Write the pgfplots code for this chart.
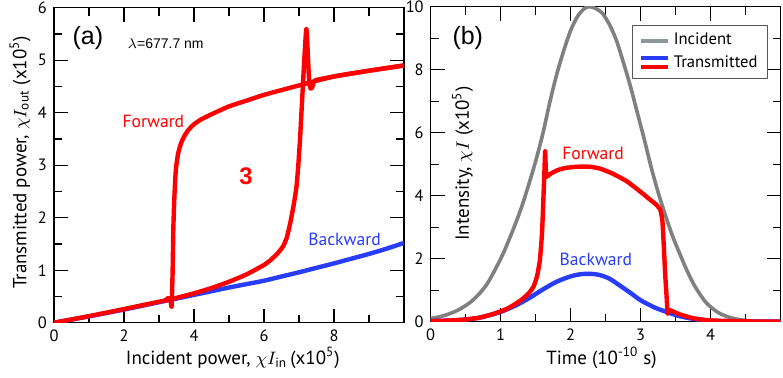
\documentclass[border=0pt]{standalone}
\usepackage{fontspec}
\setmainfont{PT Sans}
\newfontfamily\helv{Liberation Sans}
\usepackage{pgfplots}
\pgfplotsset{compat=1.18}

\definecolor{fwdred}{RGB}{255,0,0}
\definecolor{bwdblue}{RGB}{40,60,250}
\definecolor{incgray}{RGB}{128,128,128}
\definecolor{leggray}{RGB}{140,150,155}

\pgfplotsset{
  panel/.style={
    scale only axis, width=175pt, height=157.5pt,
    axis line style={line width=0.6pt},
    tick style={black, line width=0.6pt},
    major tick length=7pt, minor tick length=4pt,
    tick align=inside,
    ticklabel style={font=\fontsize{8.2}{9}\selectfont},
    /pgf/number format/assume math mode=true,
    label style={font=\fontsize{9.5}{11}\selectfont},
  },
}

\begin{document}
\begin{tikzpicture}
\useasboundingbox (-27pt,-27.15pt) rectangle (364.5pt,161.35pt);

% ---- (a) transmitted vs incident power
\begin{axis}[panel, at={(0pt,0pt)}, anchor=south west,
  xmin=0, xmax=10, ymin=0, ymax=6,
  xtick={0,2,4,6,8}, minor xtick={1,3,5,7,9},
  ytick={0,1,2,3,4,5,6}, minor ytick={0.5,1.5,2.5,3.5,4.5,5.5},
  xlabel={Incident power, $\chi I_{\mathrm{in}}$\,(x10\textsuperscript{5})},
  ylabel={Transmitted power, $\chi I_{\mathrm{out}}$ (x10\textsuperscript{5})},
  xlabel style={at={(axis description cs:0.511,-0.112)}, anchor=center},
  ylabel style={at={(axis description cs:-0.097,0.509)}, anchor=center},
]
% backward
\addplot[bwdblue, line width=2.2pt, smooth, tension=0.5] coordinates {
(0,0) (0.5,0.06) (1,0.12) (1.5,0.185) (2,0.25) (2.5,0.32) (3,0.39) (3.5,0.46)
(4,0.53) (4.5,0.60) (5,0.67) (5.5,0.735) (6,0.80) (6.5,0.88) (7,0.96)
(7.5,1.045) (8,1.13) (8.5,1.22) (9,1.31) (9.5,1.41) (10,1.52)};
% forward, increasing input
\addplot[fwdred, line width=2.2pt, line join=round, smooth, tension=0.3] coordinates {
(0,0) (1,0.125) (2,0.26) (3,0.40) (3.3,0.44) (3.6,0.49) (4,0.56) (4.5,0.66)
(5,0.78) (5.5,0.92) (6,1.1) (6.2,1.2) (6.4,1.33) (6.55,1.46) (6.65,1.62)
(6.75,1.9) (6.85,2.25) (6.93,2.6) (6.98,3.0) (7.03,3.5) (7.07,4.0) (7.11,4.5)
(7.15,5.0) (7.19,5.45) (7.21,5.6) (7.23,5.45) (7.26,5.0) (7.29,4.6)
(7.33,4.46) (7.37,4.47) (7.42,4.58) (7.47,4.62) (8,4.69) (9,4.80) (10,4.90)};
% forward, decreasing input
\addplot[fwdred, line width=2.2pt, line join=round, smooth, tension=0.4] coordinates {
(10,4.90) (9,4.80) (8,4.69) (7,4.52) (6.5,4.43) (6,4.34) (5.5,4.23) (5,4.12)
(4.5,3.97) (4.2,3.87) (4.0,3.78) (3.85,3.68) (3.72,3.55) (3.62,3.40) (3.54,3.2)
(3.48,2.9) (3.44,2.4) (3.41,1.8) (3.39,1.0) (3.37,0.5) (3.36,0.3)
(3.34,0.38) (3.3,0.46) (3.25,0.47) (3.2,0.43)};
\node[font=\helv\fontsize{12.5}{15}\selectfont] at (axis cs:0.97,5.42) {(a)};
\node[font=\helv\fontsize{7}{8}\selectfont] at (axis cs:3.19,5.31) {$\lambda$=677.7 nm};
\node[fwdred, font=\fontsize{8.8}{10}\selectfont] at (axis cs:2.84,3.84) {Forward};
\node[fwdred, font=\helv\fontsize{12}{14}\selectfont\bfseries] at (axis cs:5.49,2.78) {3};
\node[bwdblue, font=\fontsize{8.8}{10}\selectfont] at (axis cs:8.30,1.58) {Backward};
\end{axis}

% ---- (b) time traces
\begin{axis}[panel, at={(188.35pt,0.5pt)}, anchor=south west,
  xmin=0, xmax=5, ymin=0, ymax=10,
  xtick={0,1,2,3,4}, minor xtick={0.5,1.5,2.5,3.5,4.5},
  ytick={0,2,4,6,8,10}, minor ytick={1,3,5,7,9},
  xlabel={Time (10\textsuperscript{-10} s)},
  ylabel={Intensity, $\chi I$ (x10\textsuperscript{5})},
  xlabel style={at={(axis description cs:0.488,-0.1155)}, anchor=center},
  ylabel style={at={(axis description cs:0.091,0.502)}, anchor=center},
  legend style={at={(axis description cs:0.576,0.943)}, anchor=north west,
    draw=black!65, line width=0.5pt, fill=white,
    font=\fontsize{8.3}{9}\selectfont, cells={anchor=west},
    inner xsep=3pt, inner ysep=2pt, row sep=0pt},
  legend image code/.code={\draw[#1] (0pt,0pt) -- (13.5pt,0pt);},
]
% incident
\addplot[incgray, line width=1.8pt, smooth, tension=0.5, forget plot] coordinates {
(0,0.10) (0.2,0.20) (0.4,0.38) (0.6,0.68) (0.8,1.18) (1.0,2.0) (1.1,2.5)
(1.2,3.05) (1.3,3.65) (1.4,4.35) (1.5,5.1) (1.6,5.95) (1.7,6.95) (1.8,7.85)
(1.9,8.6) (2.0,9.25) (2.1,9.7) (2.2,9.95) (2.27,10.0) (2.35,9.95) (2.45,9.8)
(2.55,9.45) (2.65,8.95) (2.75,8.25) (2.85,7.5) (2.95,6.65) (3.05,5.8)
(3.15,4.9) (3.25,4.1) (3.35,3.4) (3.45,2.75) (3.55,2.2) (3.65,1.68)
(3.75,1.22) (3.85,0.86) (3.95,0.57) (4.1,0.30) (4.25,0.15) (4.4,0.07)
(4.6,0.02) (4.8,0.01) (5.0,0.0)};
% backward transmitted
\addplot[bwdblue, line width=2.2pt, smooth, tension=0.5, forget plot] coordinates {
(0,0.02) (0.3,0.04) (0.5,0.07) (0.7,0.13) (0.9,0.24) (1.0,0.31) (1.2,0.50)
(1.4,0.74) (1.6,1.02) (1.8,1.27) (2.0,1.44) (2.15,1.51) (2.27,1.52) (2.4,1.49)
(2.55,1.37) (2.7,1.15) (2.85,0.92) (3.0,0.68) (3.2,0.45) (3.37,0.31)
(3.55,0.18) (3.75,0.09) (4.0,0.03) (4.3,0.01) (5.0,0.0)};
% forward transmitted
\addplot[fwdred, line width=2.2pt, line join=round, smooth, tension=0.3, forget plot] coordinates {
(0,0.02) (0.3,0.04) (0.5,0.07) (0.7,0.13) (0.9,0.25) (1.0,0.33) (1.1,0.42)
(1.2,0.55) (1.3,0.70) (1.4,0.9) (1.47,1.12) (1.52,1.45) (1.56,1.96)
(1.59,2.8) (1.61,3.9) (1.625,4.8) (1.635,5.41) (1.645,4.8) (1.655,4.6)
(1.7,4.68) (1.8,4.8) (1.92,4.88) (2.1,4.92) (2.27,4.92) (2.42,4.86)
(2.6,4.70) (2.8,4.46) (3.0,4.12) (3.12,3.9) (3.22,3.72) (3.28,3.55)
(3.31,3.2) (3.33,2.4) (3.35,1.5) (3.37,0.8) (3.385,0.25) (3.4,0.38) (3.55,0.24)
(3.75,0.11) (4.0,0.04) (4.5,0.01) (5.0,0.0)};
\addlegendimage{leggray, line width=2pt}
\addlegendentry{Incident}
\addlegendimage{legend image code/.code={
  \draw[bwdblue, line width=2pt] (0pt,2.5pt) -- (13.5pt,2.5pt);
  \draw[fwdred, line width=2pt] (0pt,-1.65pt) -- (13.5pt,-1.65pt);}}
\addlegendentry{Transmitted}
\node[font=\helv\fontsize{12.5}{15}\selectfont] at (axis cs:0.53,9.02) {(b)};
\node[fwdred, font=\fontsize{8.8}{10}\selectfont] at (axis cs:2.32,5.35) {Forward};
\node[bwdblue, font=\fontsize{8.8}{10}\selectfont] at (axis cs:2.36,1.98) {Backward};
\end{axis}
\end{tikzpicture}
\end{document}
